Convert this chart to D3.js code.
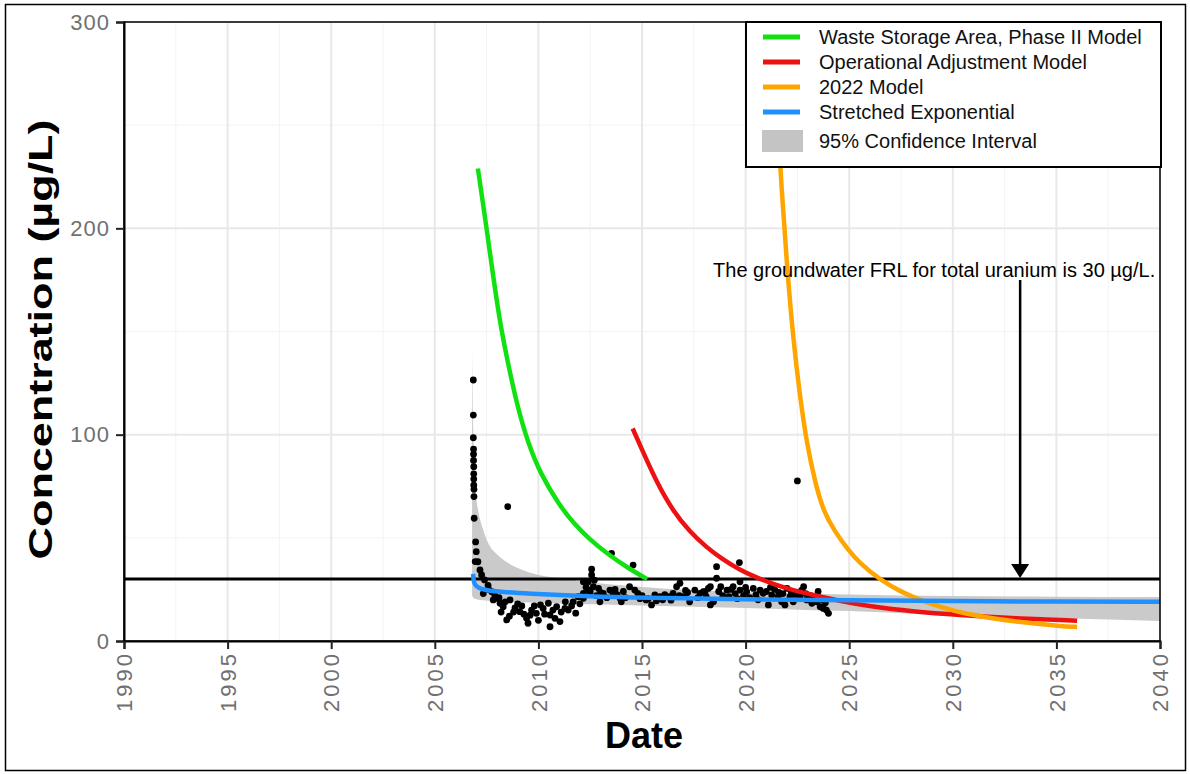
<!DOCTYPE html>
<html>
<head>
<meta charset="utf-8">
<script src="https://cdn.jsdelivr.net/npm/d3@7"></script>
<style>
  body { margin: 0; background: #fff; }
  svg { font-family: "Liberation Sans", Arial, sans-serif; }
</style>
</head>
<body>
<div id="chart"></div>
<script>
// tick values
var xTicks = [1990, 1995, 2000, 2005, 2010, 2015, 2020, 2025, 2030, 2035, 2040];
var yTicks = [0, 100, 200, 300];

// legend
var legendLabels = ["Waste Storage Area, Phase II Model", "Operational Adjustment Model", "2022 Model", "Stretched Exponential", "95% Confidence Interval"];
var legendColors = ["#11e011", "#ee1111", "#ffa500", "#1e90ff", "#c4c4c4"];

// model curves [year, value]
var greenModel = [[2007.08, 229], [2007.5, 200], [2007.8, 178], [2008.15, 154], [2008.5, 136], [2009.0, 113], [2009.5, 96], [2010.1, 81], [2011.0, 66], [2011.7, 57], [2012.5, 49], [2013.3, 42.5], [2014.3, 35.5], [2015.25, 30]];
var redModel = [[2014.55, 103], [2014.9, 95], [2015.7, 77], [2016.5, 63], [2017.3, 53], [2018.1, 45.5], [2018.9, 39.5], [2019.7, 34.6], [2020.5, 30.8], [2021.3, 27.8], [2022.1, 25.2], [2022.96, 23], [2024.55, 19.3], [2026.1, 16.6], [2028.0, 14.4], [2030.3, 12.6], [2033.0, 11], [2036.0, 9.8]];
var orangeModel = [[2021.45, 275], [2021.66, 230], [2022.0, 181], [2022.3, 146], [2022.63, 118], [2022.95, 96], [2023.35, 77], [2023.75, 63], [2024.3, 53.2], [2024.87, 45.2], [2025.5, 37.7], [2026.5, 29.6], [2027.5, 23.8], [2028.5, 19.5], [2029.5, 16.2], [2030.5, 13.4], [2032.0, 10.8], [2033.5, 8.9], [2035.2, 7.2], [2036.0, 6.8]];
var stretchedExp = [[2006.85, 32.5], [2006.87, 29], [2006.95, 27], [2007.1, 25.8], [2007.4, 24.8], [2007.9, 24], [2009.4, 23], [2012.5, 21.6], [2015, 21], [2020, 20.2], [2025, 19.7], [2030, 19.3], [2035, 19.1], [2040, 19]];

// 95% confidence band
var ciYears = [2006.80, 2006.86, 2006.95, 2007.1, 2007.3, 2007.6, 2008.0, 2008.5, 2009.2, 2010, 2011, 2012.5, 2014, 2016, 2018, 2020, 2022.5, 2025, 2027.5, 2030, 2035, 2040];
var ciUpper = [141, 100, 75, 63, 55, 47, 42, 38, 34.5, 32, 30.5, 28.5, 27, 25.5, 24.3, 23.6, 23, 22.5, 22, 21.8, 21.5, 21.3];
var ciLower = [22, 21, 20.5, 20, 19.8, 19.5, 19.3, 19, 18.8, 18.5, 18.2, 17.8, 17.5, 17, 16.5, 16, 15.2, 14.5, 13.5, 12.7, 11.2, 9.7];

// observations [year, value]
var observations = [
  [2006.86, 126.5], [2006.86, 109.5], [2006.86, 98.5], [2006.87, 93], [2006.87, 90.5], [2006.87, 87.5], [2006.88, 84.5], [2006.88, 81], [2006.88, 78.5], [2006.88, 75.5], [2006.89, 73.5], [2006.89, 70], [2006.9, 59.5], [2006.97, 48], [2007.0, 43.3], [2006.95, 38.5],
  [2007.08, 38.4], [2007.18, 34.4], [2007.26, 32], [2007.4, 29.6], [2007.57, 27], [2007.75, 23.9], [2007.98, 20.7], [2008.3, 16.6], [2008.47, 10.2], [2008.63, 19.9], [2008.87, 16], [2009.1, 14.2], [2009.43, 11], [2009.5, 8.6], [2009.67, 15], [2009.9, 13.4], [2010.23, 15.8], [2010.48, 18.3], [2010.56, 12.6], [2010.56, 6.9], [2010.88, 16.6], [2011.04, 9.4], [2011.28, 15.8], [2011.44, 15], [2011.68, 19], [2011.92, 21.5], [2012.17, 23.1], [2012.4, 24.7], [2007.34, 23], [2007.82, 19.9], [2008.15, 18.3],
  [2008.52, 65.1],
  [2013.53, 42.5], [2014.57, 36.8], [2012.57, 34.8], [2012.17, 28.7], [2012.4, 28.7], [2012.57, 32], [2012.65, 26.3], [2012.5, 23.9], [2013.45, 24.7], [2013.6, 23.1], [2013.13, 23.1], [2014.0, 19], [2014.4, 26.3], [2014.65, 24.7], [2014.8, 23.1], [2012.97, 19], [2012.17, 20.7], [2015.2, 19.9], [2015.46, 17.5], [2015.62, 22.3], [2015.87, 21.5], [2016.27, 21.5], [2016.5, 23.1], [2016.67, 26.3], [2016.83, 28], [2017.0, 21.5], [2017.3, 19], [2017.55, 24.7], [2017.8, 23.1], [2018.04, 23.9], [2018.2, 25.5], [2012.9, 25.5], [2013.94, 20.7],
  [2018.6, 36], [2019.7, 38], [2018.6, 30.4], [2017.96, 23.9], [2018.3, 26.3], [2018.3, 17.5], [2018.45, 19], [2018.8, 26.3], [2019.1, 24.7], [2019.4, 26.3], [2019.73, 28.7], [2019.73, 24.7], [2020.05, 23.9], [2020.37, 25.5], [2020.7, 24.7], [2020.85, 23.1], [2021.1, 17.5], [2021.26, 22.3], [2021.57, 21.5], [2021.74, 19], [2021.9, 17.5], [2022.14, 21.5], [2022.3, 19], [2022.63, 21.5], [2022.8, 26.3], [2022.95, 19.9], [2023.2, 18.3], [2023.44, 19], [2023.6, 16.6], [2023.75, 15.8], [2023.9, 15], [2024.0, 13.4],
  [2022.5, 77.6],
  [2007.6, 25], [2007.9, 22], [2008.1, 21], [2008.4, 19], [2008.8, 14], [2009.0, 18], [2009.3, 13], [2009.8, 17], [2010.0, 10], [2010.3, 13], [2010.7, 15], [2011.1, 14], [2011.6, 17], [2012.0, 18], [2012.8, 22], [2013.3, 21], [2013.8, 22.5], [2014.2, 21], [2015.0, 22], [2015.3, 20.5], [2016.0, 20], [2016.8, 22], [2017.2, 23.5], [2018.9, 22], [2019.2, 21.5], [2019.5, 23], [2019.9, 22], [2020.2, 21], [2020.5, 22.5], [2021.0, 24], [2021.4, 25], [2021.8, 23], [2022.2, 24], [2022.9, 23], [2023.3, 21], [2023.7, 20],
  [2008.2, 14], [2008.6, 12], [2009.2, 17], [2009.6, 12.5], [2010.1, 17.5], [2010.8, 11], [2011.3, 19], [2011.8, 13.5], [2012.3, 26], [2012.7, 29.5], [2013.0, 23.5], [2013.7, 25], [2014.1, 24], [2014.9, 20.5], [2015.7, 19.5], [2016.1, 22.5], [2016.4, 19.8], [2017.1, 24.5], [2017.7, 21], [2018.1, 21.5], [2018.7, 24], [2019.3, 25], [2019.6, 20.5], [2020.0, 26], [2020.6, 20], [2021.2, 26], [2021.6, 23.5], [2022.0, 25.5], [2022.4, 22.5], [2022.7, 24.5], [2023.1, 22], [2023.5, 24], [2023.85, 18.5]
];

var frlValue = 30;
var annotation = "The groundwater FRL for total uranium is 30 \u00b5g/L.";

var W = 1190, H = 774;
var margin = {top: 22, right: 30, bottom: 133, left: 124};
var width = W - margin.left - margin.right,
    height = H - margin.top - margin.bottom;

var svg = d3.select("#chart").append("svg")
    .attr("width", W)
    .attr("height", H);

// outer frame
svg.append("rect")
    .attr("x", 5.5).attr("y", 4.5)
    .attr("width", 1180).attr("height", 766)
    .attr("fill", "none")
    .attr("stroke", "#000")
    .attr("stroke-width", 1.5);

var g = svg.append("g")
    .attr("transform", "translate(" + margin.left + "," + margin.top + ")");

var x = d3.scaleLinear().domain([1990, 2040]).range([0, width]);
var y = d3.scaleLinear().domain([0, 300]).range([height, 0]);

g.append("clipPath").attr("id", "clip")
  .append("rect").attr("width", width).attr("height", height);

// grid
var minorX = d3.range(1992.5, 2040, 5), minorY = d3.range(50, 300, 100);
g.selectAll(".gxm").data(minorX).enter().append("line")
    .attr("x1", x).attr("x2", x).attr("y1", 0).attr("y2", height)
    .attr("stroke", "#f3f3f3").attr("stroke-width", 1);
g.selectAll(".gym").data(minorY).enter().append("line")
    .attr("y1", y).attr("y2", y).attr("x1", 0).attr("x2", width)
    .attr("stroke", "#f3f3f3").attr("stroke-width", 1);
g.selectAll(".gx").data(xTicks).enter().append("line")
    .attr("x1", x).attr("x2", x).attr("y1", 0).attr("y2", height)
    .attr("stroke", "#e8e8e8").attr("stroke-width", 2);
g.selectAll(".gy").data(yTicks).enter().append("line")
    .attr("y1", y).attr("y2", y).attr("x1", 0).attr("x2", width)
    .attr("stroke", "#e8e8e8").attr("stroke-width", 2);

var plot = g.append("g").attr("clip-path", "url(#clip)");

// confidence band
var band = ciYears.map(function(d, i) { return {year: d, lo: ciLower[i], hi: ciUpper[i]}; });
plot.append("path")
    .datum(band)
    .attr("fill", "#c4c4c4")
    .attr("opacity", 0.9)
    .attr("d", d3.area()
        .curve(d3.curveMonotoneX)
        .x(function(d) { return x(d.year); })
        .y0(function(d) { return y(d.lo); })
        .y1(function(d) { return y(d.hi); }));

// observations
plot.selectAll(".obs").data(observations).enter().append("circle")
    .attr("cx", function(d) { return x(d[0]); })
    .attr("cy", function(d) { return y(d[1]); })
    .attr("r", 3.4)
    .attr("fill", "#000");

// FRL line
plot.append("line")
    .attr("x1", 0).attr("x2", width)
    .attr("y1", y(frlValue)).attr("y2", y(frlValue))
    .attr("stroke", "#000").attr("stroke-width", 3);

var line = d3.line()
    .curve(d3.curveBasis)
    .x(function(d) { return x(d[0]); })
    .y(function(d) { return y(d[1]); });

[[greenModel, legendColors[0]], [redModel, legendColors[1]], [orangeModel, legendColors[2]], [stretchedExp, legendColors[3]]]
  .forEach(function(s) {
    plot.append("path")
        .datum(s[0])
        .attr("fill", "none")
        .attr("stroke", s[1])
        .attr("stroke-width", 4.5)
        .attr("d", line);
  });

// annotation + arrow
var arrowX = x(2033.25);
g.append("line")
    .attr("x1", arrowX).attr("x2", arrowX)
    .attr("y1", y(175)).attr("y2", y(frlValue) - 12)
    .attr("stroke", "#000").attr("stroke-width", 2.5);
g.append("path")
    .attr("d", "M" + (arrowX - 9) + "," + (y(frlValue) - 15) + "L" + (arrowX + 9) + "," + (y(frlValue) - 15) + "L" + arrowX + "," + (y(frlValue) - 1) + "Z")
    .attr("fill", "#000");
g.append("text")
    .attr("x", x(2029.1))
    .attr("y", y(176.3))
    .attr("text-anchor", "middle")
    .attr("font-size", 20)
    .attr("fill", "#000")
    .text(annotation);

// panel border
g.append("rect")
    .attr("width", width).attr("height", height)
    .attr("fill", "none").attr("stroke", "#000").attr("stroke-width", 1.5);

// axes
var yAxis = g.append("g")
    .call(d3.axisLeft(y).tickValues(yTicks).tickSize(8).tickPadding(6));
var xAxis = g.append("g")
    .attr("transform", "translate(0," + height + ")")
    .call(d3.axisBottom(x).tickValues(xTicks).tickFormat(d3.format("d")).tickSize(8));

[yAxis, xAxis].forEach(function(a) {
  a.select(".domain").attr("stroke", "#000").attr("stroke-width", 2);
  a.selectAll(".tick line").attr("stroke", "#222").attr("stroke-width", 2);
  a.selectAll("text").attr("fill", "#707070").attr("font-family", "Liberation Sans, Arial, sans-serif");
});
yAxis.selectAll("text").attr("font-size", 22).attr("letter-spacing", 1);
xAxis.selectAll("text")
    .attr("font-size", 22)
    .attr("letter-spacing", 3)
    .attr("transform", "rotate(-90)")
    .attr("text-anchor", "end")
    .attr("x", -10)
    .attr("y", 0)
    .attr("dy", "0.35em");

// axis titles
svg.append("text")
    .attr("transform", "translate(52," + (margin.top + height / 2 + 8) + ") rotate(-90)")
    .attr("text-anchor", "middle")
    .attr("font-size", 34)
    .attr("font-weight", "bold")
    .attr("textLength", 440)
    .attr("lengthAdjust", "spacingAndGlyphs")
    .attr("fill", "#000")
    .text("Concentration (\u00b5g/L)");
svg.append("text")
    .attr("x", margin.left + width / 2 + 2)
    .attr("y", 748)
    .attr("text-anchor", "middle")
    .attr("font-size", 36)
    .attr("font-weight", "bold")
    .attr("fill", "#000")
    .text("Date");

// legend
var legend = g.append("g")
    .attr("transform", "translate(" + (746 - margin.left) + ",0)");
legend.append("rect")
    .attr("width", 415).attr("height", 145)
    .attr("fill", "#fff").attr("stroke", "#000").attr("stroke-width", 2);
var rowY = [15, 40, 65, 90, 119];
legendLabels.forEach(function(lab, i) {
  if (i < 4) {
    legend.append("line")
        .attr("x1", 17).attr("x2", 54)
        .attr("y1", rowY[i]).attr("y2", rowY[i])
        .attr("stroke", legendColors[i]).attr("stroke-width", 5);
  } else {
    legend.append("rect")
        .attr("x", 16).attr("y", rowY[i] - 11)
        .attr("width", 41).attr("height", 22)
        .attr("fill", legendColors[i]);
  }
  legend.append("text")
      .attr("x", 73).attr("y", rowY[i])
      .attr("dy", "0.36em")
      .attr("font-size", 20)
      .attr("fill", "#111")
      .text(lab);
});
</script>
</body>
</html>
